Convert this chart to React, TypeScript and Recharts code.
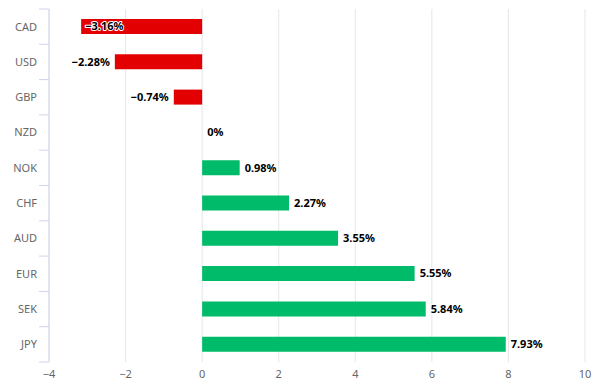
import React from "react";
import { BarChart, Bar, XAxis, YAxis, CartesianGrid, Cell, LabelList } from "recharts";

const categories = ["CAD", "USD", "GBP", "NZD", "NOK", "CHF", "AUD", "EUR", "SEK", "JPY"];
const values = [-3.16, -2.28, -0.74, 0, 0.98, 2.27, 3.55, 5.55, 5.84, 7.93];
const xTicks = [-4, -2, 0, 2, 4, 6, 8, 10];

const data = categories.map((c, i) => ({ name: c, value: values[i] }));

const FONT = "'Noto Sans', 'DejaVu Sans', sans-serif";
const RED = "#e30000";
const GREEN = "#00bb6a";
const AXIS = "#ccd6eb";
const PLOT_LEFT = 49;
const PLOT_TOP = 9;
const PLOT_BOTTOM = 362;

const fmt = (v: number) => (v < 0 ? "\u2212" + Math.abs(v) : String(v)) + "%";

const BarLabel = (props: any) => {
  const { x, y, width, height, value } = props;
  const v = Number(value);
  const left = Math.min(x, x + width);
  const right = v === 0 ? left : Math.max(x, x + width);
  const cy = y + height / 2;
  const text = fmt(v);
  const estW = text.length * 6.6;
  let tx = right + 5;
  let anchor: "start" | "end" = "start";
  if (v < 0) {
    if (left - 5 - estW < PLOT_LEFT) {
      tx = left + 4;
      anchor = "start";
    } else {
      tx = left - 5;
      anchor = "end";
    }
  }
  return (
    <text
      x={tx}
      y={cy}
      dy="0.35em"
      textAnchor={anchor}
      fontFamily={FONT}
      fontSize={11}
      fontWeight="bold"
      fill="#000"
      stroke="#fff"
      strokeWidth={2}
      strokeLinejoin="round"
      paintOrder="stroke"
    >
      {text}
    </text>
  );
};

const YTick = (props: any) => {
  const { y, payload, index } = props;
  const band = (PLOT_BOTTOM - PLOT_TOP) / categories.length;
  return (
    <g>
      <text x={37} y={y} dy="0.35em" textAnchor="end" fontFamily={FONT} fontSize={11} fill="#666">
        {payload.value}
      </text>
      <line x1={PLOT_LEFT - 10} x2={PLOT_LEFT} y1={y + band / 2} y2={y + band / 2} stroke={AXIS} />
      {index === 0 && (
        <line x1={PLOT_LEFT - 10} x2={PLOT_LEFT} y1={y - band / 2} y2={y - band / 2} stroke={AXIS} />
      )}
    </g>
  );
};

export default function App() {
  return (
    <div style={{ position: "absolute", left: 0, top: 0, width: 598, height: 392, background: "#fff" }}>
      <BarChart
        width={598}
        height={392}
        data={data}
        layout="vertical"
        margin={{ top: PLOT_TOP, right: 13, bottom: 0, left: 0 }}
      >
        <CartesianGrid horizontal={false} vertical={true} stroke="#e6e6e6" />
        <XAxis
          type="number"
          domain={[-4, 10]}
          ticks={xTicks}
          axisLine={false}
          tickLine={false}
          height={392 - PLOT_BOTTOM}
          interval={0}
          tickFormatter={(v: number) => (v < 0 ? "\u2212" + Math.abs(v) : String(v))}
          tick={{ fill: "#666", fontSize: 11, fontFamily: FONT }}
        />
        <YAxis
          type="category"
          dataKey="name"
          width={PLOT_LEFT}
          axisLine={{ stroke: AXIS }}
          tickLine={false}
          interval={0}
          tick={<YTick />}
        />
        <Bar dataKey="value" barSize={15} minPointSize={1} isAnimationActive={false}>
          {data.map((d, i) => (
            <Cell key={i} fill={d.value < 0 ? RED : d.value > 0 ? GREEN : "transparent"} />
          ))}
          <LabelList dataKey="value" content={<BarLabel />} />
        </Bar>
      </BarChart>
    </div>
  );
}
